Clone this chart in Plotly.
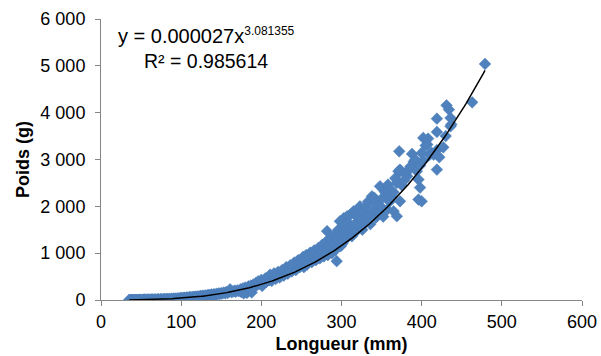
import plotly.graph_objects as go

# Fish length (mm) and weight (g)
L_A = [35,36,37,38,39,40,41,42,43,44,45,46,47,48,49,50,52,53,54,55,56,58,59,60,62,63,64,65,67,68,70,71,72,74,75,76,78,79,80,82,83,85,86,88,89,90,92,93,95,96,98,99]
W_A = [2,1,2,1,2,3,2,3,2,3,4,3,4,5,4,5,5,6,7,6,8,7,9,8,9,11,10,9,12,11,14,13,15,14,17,16,18,17,21,19,22,23,21,26,24,29,27,32,30,35,33,38]

L_B = [100,101,103,104,105,107,108,110,111,112,114,115,117,118,120,121,123,124,125,127,128,130,131,133,134,135,137,138,140,141,143,144,145,147,148,150,151,153,155,156,158,160,161,163,165,167,168]
W_B = [36,45,40,50,44,56,48,60,52,64,57,68,62,74,66,80,70,86,77,92,82,98,88,104,93,110,100,118,106,124,112,132,120,140,126,148,134,158,142,170,150,178,230,165,185,200,175]

L_C = [170,172,174,175,177,178,180,182,184,185,187,188,190,192,193,195,196,198,200,201,203,205,206,208,210,211,213,215,216,218,220,221,223,225,226,228,230,231,233,235,236,238,240,241,243,245,246,248,250]
W_C = [205,190,230,170,250,140,265,150,290,230,310,160,330,290,360,320,400,350,430,300,390,460,380,480,420,540,410,490,570,450,520,600,480,560,640,520,610,700,560,660,740,610,700,800,640,730,850,700,790]

L_D = [251,252,253,255,256,257,258,260,261,263,265,266,268,270,271,273,275,276,278,280,281,282,283,285,286,288,290,291,292,294,295,296,298,299,300]
W_D = [880,920,700,820,960,757,780,880,1010,810,930,1060,850,970,1110,890,1050,1180,930,1100,1250,1470,960,1150,1300,1000,1210,1380,1060,830,1300,1500,1680,1150,1400]

L_E = [301,302,303,304,305,306,307,308,310,311,312,313,315,316,318,320,321,322,323,325,326,328,330,331,332,333,335,336,338,340,341,342,343,345,346,348,350,351,352,354,356,357,358,360]
W_E = [1200,1260,1750,1450,1560,1310,1788,1660,1460,1824,1550,1360,1895,1610,1460,1760,1930,1560,2000,1710,1500,1860,1650,2000,1788,2100,1810,1620,2215,1910,2180,2074,1760,2010,1860,2428,2160,1960,1780,2310,2287,1930,2464,2100]

L_F = [361,363,365,365,367,369,369,371,372,373,373,373,375,378,380,382,384,386,388,390,392,392,394,396,396,398,398,400,400,402,402,405,407,408,410,412,415,419,419,419,419,422,427,430,431,434,436,436,437,463,479]
W_F = [2357,2200,1895,2300,2600,2500,1788,2748,3175,2748,2108,2784,2450,2550,2700,2641,2784,2850,3119,2950,2976,3000,2748,2571,2144,2870,2400,2108,3140,2976,3460,3300,3318,3446,3100,3150,3104,2784,3589,3872,3200,3050,3260,3500,4156,4065,3708,3887,3750,4220,5040]

longueur = L_A + L_B + L_C + L_D + L_E + L_F
poids = W_A + W_B + W_C + W_D + W_E + W_F

# Power trendline coefficients shown on the chart
COEF_A = 0.000027
COEF_B = 3.081355
R2 = 0.985614
trend_x = sorted(set(list(range(35, 481, 2)) + [479]))
trend_y = [COEF_A * x ** COEF_B for x in trend_x]

x_ticks = [0, 100, 200, 300, 400, 500, 600]
y_ticks = [0, 1000, 2000, 3000, 4000, 5000, 6000]
y_tick_labels = ["0", "1 000", "2 000", "3 000", "4 000", "5 000", "6 000"]

FONT = "Liberation Sans, Arial, sans-serif"

fig = go.Figure()
fig.add_trace(go.Scatter(
    x=longueur, y=poids, mode="markers",
    marker=dict(symbol="diamond", size=9, color="#4F81BD",
                line=dict(width=0.5, color="#4A7EBB")),
    showlegend=False, hoverinfo="skip"))
fig.add_trace(go.Scatter(
    x=trend_x, y=trend_y, mode="lines",
    line=dict(color="black", width=1.5),
    showlegend=False, hoverinfo="skip"))

fig.add_annotation(
    x=0.2183, y=0.941, xref="paper", yref="paper", xanchor="center", yanchor="middle",
    text=f"y = {COEF_A:.6f}x<sup><span style='font-size:12px'>{COEF_B}</span></sup>",
    showarrow=False, font=dict(family=FONT, size=20, color="black"))
fig.add_annotation(
    x=0.2183, y=0.851, xref="paper", yref="paper", xanchor="center", yanchor="middle",
    text=f"R² = {R2}",
    showarrow=False, font=dict(family=FONT, size=19.5, color="black"))

fig.update_layout(
    template="none",
    width=601, height=356,
    margin=dict(l=101, r=19, t=19, b=56),
    paper_bgcolor="white", plot_bgcolor="white",
    font=dict(family=FONT, size=18, color="black"),
    xaxis=dict(
        automargin=False,
        range=[0, 600], tickvals=x_ticks, ticks="outside", ticklen=5,
        tickcolor="#868686", showline=True, linecolor="#868686", linewidth=1,
        showgrid=False, zeroline=False,
        title=dict(text="<b>Longueur (mm)</b>", font=dict(size=18), standoff=6),
    ),
    yaxis=dict(
        automargin=False,
        range=[0, 6000], tickvals=y_ticks, ticktext=y_tick_labels,
        ticks="outside", ticklen=5, ticklabelstandoff=6,
        tickcolor="#868686", showline=True, linecolor="#868686", linewidth=1,
        showgrid=False, zeroline=False,
        title=dict(text="<b>Poids (g)</b>", font=dict(size=18), standoff=6),
    ),
)

fig.write_html("out.html", config={"displayModeBar": False},
               post_script="document.body.style.margin='0';")
